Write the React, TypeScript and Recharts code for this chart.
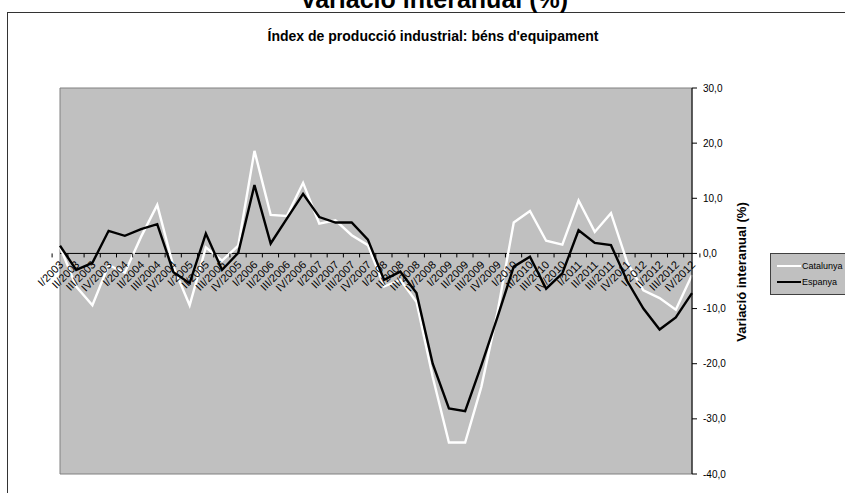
import React from 'react';
import {
  ComposedChart, Line, XAxis, YAxis, CartesianGrid, ReferenceArea,
  ReferenceLine, ReferenceDot, Legend,
} from 'recharts';

const quarters = [
  'I/2003', 'II/2003', 'III/2003', 'IV/2003',
  'I/2004', 'II/2004', 'III/2004', 'IV/2004',
  'I/2005', 'II/2005', 'III/2005', 'IV/2005',
  'I/2006', 'II/2006', 'III/2006', 'IV/2006',
  'I/2007', 'II/2007', 'III/2007', 'IV/2007',
  'I/2008', 'II/2008', 'III/2008', 'IV/2008',
  'I/2009', 'II/2009', 'III/2009', 'IV/2009',
  'I/2010', 'II/2010', 'III/2010', 'IV/2010',
  'I/2011', 'II/2011', 'III/2011', 'IV/2011',
  'I/2012', 'II/2012', 'III/2012', 'IV/2012',
];

const catalunya = [
  1.2, -6.0, -9.4, -2.1, -3.5, 3.0, 8.8, -2.4,
  -9.4, 1.1, -1.3, 1.4, 18.6, 7.0, 6.8, 12.8,
  5.4, 6.0, 3.3, 1.5, -6.0, -4.8, -8.8, -22.4,
  -34.3, -34.3, -24.2, -10.6, 5.6, 7.7, 2.3, 1.6,
  9.6, 3.9, 7.3, -1.6, -6.7, -8.1, -10.2, -3.9,
];

const espanya = [
  1.4, -3.0, -1.7, 4.1, 3.2, 4.4, 5.3, -3.4,
  -5.4, 3.6, -3.0, 0.1, 12.4, 1.8, 6.3, 10.8,
  6.6, 5.6, 5.6, 2.5, -4.8, -3.3, -7.2, -20.0,
  -28.1, -28.6, -20.3, -11.5, -2.4, -0.6, -6.4, -3.6,
  4.2, 1.9, 1.5, -5.0, -10.0, -13.8, -11.6, -7.2,
];

const yTicks = [-40, -30, -20, -10, 0, 10, 20, 30];
const gridValues = [-30, -20, -10, 10, 20];

const data = quarters.map((q, i) => ({ q, cat: catalunya[i], esp: espanya[i] }));

const FONT = '"Liberation Sans", Arial, sans-serif';
const W = 845;
const H = 493;
const MARGIN = { top: 88, right: 93, bottom: 19, left: 60 };
const YAXIS_W = 60;
const PLOT_W = W - MARGIN.left - MARGIN.right - YAXIS_W;
const BAND = PLOT_W / quarters.length;

const fmt = (v: number) => v.toFixed(1).replace('.', ',');

const makeTick = (label: string, index: number) => (props: any) => {
  const { cx, cy } = props;
  return (
    <g>
      <line x1={cx + BAND / 2} y1={cy} x2={cx + BAND / 2} y2={cy + 4} stroke="#000" strokeWidth={1} />
      {index === 0 && (
        <line x1={cx - BAND / 2} y1={cy} x2={cx - BAND / 2} y2={cy + 4} stroke="#000" strokeWidth={1} />
      )}
      <text
        x={cx + 4}
        y={cy + 12}
        textAnchor="end"
        fontSize={11}
        fontFamily={FONT}
        fill="#000"
        transform={`rotate(-45 ${cx + 4} ${cy + 12})`}
      >
        {label}
      </text>
    </g>
  );
};

const LegendBox = (props: any) => {
  const items = props.payload || [];
  return (
    <div
      style={{
        background: '#c0c0c0',
        border: '1px solid #404040',
        width: 90,
        padding: '4px 0 4px 6px',
        fontFamily: FONT,
        fontSize: 9,
        boxSizing: 'border-box',
      }}
    >
      {items.map((it: any) => (
        <div key={it.value} style={{ display: 'flex', alignItems: 'center', height: 16 }}>
          <svg width={24} height={6} style={{ display: 'block' }}>
            <line x1={0} y1={3} x2={24} y2={3} stroke={it.color} strokeWidth={2} />
          </svg>
          <span style={{ color: '#000', marginLeft: 1 }}>{it.value}</span>
        </div>
      ))}
    </div>
  );
};

export default function App() {
  return (
    <div style={{ position: 'fixed', left: 0, top: 0, width: W, height: H, overflow: 'hidden', background: '#fff' }}>
      <div
        style={{
          position: 'absolute', left: 7, top: 12, width: W, height: H,
          borderLeft: '1.5px solid #333', borderTop: '1.5px solid #333',
        }}
      />
      <div
        style={{
          position: 'absolute', left: 0, width: 868, top: -15, textAlign: 'center', lineHeight: '28px',
          fontFamily: FONT, fontWeight: 'bold', fontSize: 25, color: '#000',
        }}
      >
        Variació interanual (%)
      </div>
      <div
        style={{
          position: 'absolute', left: 0, width: 866, top: 28, textAlign: 'center',
          fontFamily: FONT, fontWeight: 'bold', fontSize: 14, color: '#000',
        }}
      >
        Índex de producció industrial: béns d'equipament
      </div>
      <div style={{ position: 'absolute', left: 0, top: 0 }}>
        <ComposedChart width={W} height={H} data={data} margin={MARGIN}>
          <ReferenceArea y1={-40} y2={30} fill="#c0c0c0" fillOpacity={1} stroke="#808080" strokeWidth={1} ifOverflow="visible" />
          <CartesianGrid horizontal vertical={false} horizontalValues={gridValues} stroke="#000" strokeOpacity={1} />
          <XAxis dataKey="q" hide />
          <YAxis
            orientation="right"
            width={YAXIS_W}
            domain={[-40, 30]}
            ticks={yTicks}
            interval={0}
            tickFormatter={fmt}
            axisLine={{ stroke: '#000' }}
            tickLine={{ stroke: '#000' }}
            tickSize={5}
            tickMargin={6}
            tick={{ fontSize: 10, fill: '#000', fontFamily: FONT, textAnchor: 'start' }}
            label={{
              value: 'Variació interanual (%)', angle: -90, position: 'center', dx: 19, dy: -9,
              style: { fontSize: 13, fontWeight: 'bold', fill: '#000', fontFamily: FONT, textAnchor: 'middle' },
            }}
          />
          <ReferenceLine y={0} stroke="#000" strokeWidth={1} />
          {quarters.map((q, i) => (
            <ReferenceDot key={q} x={q} y={0} r={0} ifOverflow="visible" shape={makeTick(q, i)} />
          ))}
          <Line type="linear" dataKey="cat" name="Catalunya" stroke="#ffffff" strokeWidth={2.4} dot={false} isAnimationActive={false} />
          <Line type="linear" dataKey="esp" name="Espanya" stroke="#000000" strokeWidth={2.4} dot={false} isAnimationActive={false} />
          <Legend
            layout="vertical"
            align="center"
            verticalAlign="middle"
            content={LegendBox}
            wrapperStyle={{ position: 'absolute', left: 770, top: 253, width: 90, height: 'auto' }}
          />
        </ComposedChart>
      </div>
    </div>
  );
}
